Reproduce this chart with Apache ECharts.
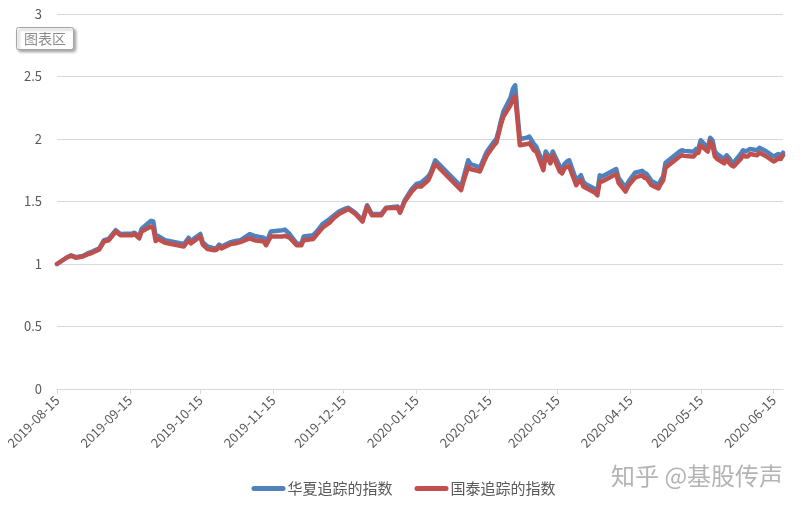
<!DOCTYPE html>
<html>
<head>
<meta charset="utf-8">
<script src="https://cdn.jsdelivr.net/npm/echarts@6/dist/echarts.min.js"></script>
<style>
html,body{margin:0;padding:0;background:#fff;}
#chart{width:807px;height:509px;}
</style>
</head>
<body>
<div id="chart"></div>
<script>
var seriesNames = ['华夏追踪的指数', '国泰追踪的指数'];
var xTickLabels = ['2019-08-15','2019-09-15','2019-10-15','2019-11-15','2019-12-15','2020-01-15','2020-02-15','2020-03-15','2020-04-15','2020-05-15','2020-06-15'];
var xStart = '2019-08-15';
var xEnd = '2020-06-19';

var dates = [
'2019-08-15','2019-08-19','2019-08-21','2019-08-23','2019-08-26','2019-08-28','2019-08-30','2019-09-02','2019-09-04','2019-09-06',
'2019-09-09','2019-09-11','2019-09-16','2019-09-17','2019-09-19','2019-09-20','2019-09-23','2019-09-24','2019-09-25','2019-09-26',
'2019-09-27','2019-09-30','2019-10-08','2019-10-10','2019-10-11','2019-10-15','2019-10-16','2019-10-18','2019-10-21','2019-10-22',
'2019-10-23','2019-10-24','2019-10-28','2019-10-30','2019-11-01','2019-11-05','2019-11-07','2019-11-11','2019-11-12','2019-11-14',
'2019-11-19','2019-11-20','2019-11-22','2019-11-25','2019-11-27','2019-11-28','2019-12-02','2019-12-04','2019-12-06','2019-12-09',
'2019-12-11','2019-12-13','2019-12-16','2019-12-17','2019-12-20','2019-12-23','2019-12-25','2019-12-27','2019-12-31','2020-01-02',
'2020-01-07','2020-01-08','2020-01-10','2020-01-13','2020-01-15','2020-01-17','2020-01-20','2020-01-21','2020-01-23','2020-02-03',
'2020-02-04','2020-02-06','2020-02-07','2020-02-10','2020-02-11','2020-02-13','2020-02-14','2020-02-17','2020-02-18','2020-02-19',
'2020-02-20','2020-02-21','2020-02-24','2020-02-25','2020-02-26','2020-02-27','2020-02-28','2020-03-02','2020-03-03','2020-03-04',
'2020-03-05','2020-03-06','2020-03-09','2020-03-10','2020-03-11','2020-03-12','2020-03-13','2020-03-16','2020-03-17','2020-03-18',
'2020-03-19','2020-03-20','2020-03-23','2020-03-24','2020-03-25','2020-03-26','2020-03-27','2020-03-30','2020-03-31','2020-04-01',
'2020-04-02','2020-04-03','2020-04-07','2020-04-08','2020-04-09','2020-04-10','2020-04-13','2020-04-14','2020-04-15','2020-04-17',
'2020-04-20','2020-04-21','2020-04-22','2020-04-24','2020-04-27','2020-04-28','2020-04-29','2020-04-30','2020-05-06','2020-05-07',
'2020-05-08','2020-05-11','2020-05-12','2020-05-13','2020-05-14','2020-05-15','2020-05-18','2020-05-19','2020-05-20','2020-05-21',
'2020-05-22','2020-05-25','2020-05-26','2020-05-27','2020-05-28','2020-05-29','2020-06-01','2020-06-02','2020-06-03','2020-06-04',
'2020-06-05','2020-06-08','2020-06-09','2020-06-10','2020-06-11','2020-06-12','2020-06-15','2020-06-16','2020-06-17','2020-06-18',
'2020-06-19'
];

var huaxia = [
1.00,1.05,1.07,1.055,1.065,1.085,1.10,1.125,1.19,1.20,
1.27,1.24,1.245,1.25,1.22,1.28,1.33,1.345,1.34,1.22,
1.225,1.19,1.16,1.21,1.185,1.24,1.175,1.14,1.125,1.13,
1.155,1.14,1.175,1.185,1.19,1.24,1.225,1.21,1.17,1.26,
1.27,1.275,1.24,1.165,1.16,1.22,1.23,1.27,1.32,1.36,
1.39,1.42,1.445,1.45,1.41,1.35,1.47,1.40,1.40,1.45,
1.46,1.415,1.51,1.60,1.64,1.65,1.70,1.73,1.83,1.62,
1.69,1.83,1.80,1.78,1.77,1.86,1.90,1.98,2.00,2.07,
2.15,2.22,2.33,2.40,2.43,2.20,2.00,2.01,2.02,1.99,
1.96,1.94,1.80,1.90,1.87,1.84,1.90,1.78,1.76,1.80,
1.82,1.83,1.67,1.69,1.71,1.66,1.64,1.61,1.60,1.58,
1.71,1.70,1.74,1.75,1.76,1.69,1.61,1.65,1.68,1.73,
1.745,1.73,1.72,1.665,1.635,1.67,1.70,1.81,1.90,1.91,
1.905,1.90,1.90,1.92,1.925,1.99,1.93,2.01,1.99,1.90,
1.88,1.84,1.87,1.85,1.82,1.81,1.88,1.91,1.90,1.91,
1.92,1.91,1.93,1.92,1.91,1.90,1.86,1.87,1.88,1.87,
1.89
];

var guotai = [
1.00,1.05,1.066,1.05,1.06,1.077,1.09,1.117,1.18,1.19,
1.26,1.23,1.23,1.24,1.205,1.26,1.29,1.30,1.285,1.184,
1.20,1.17,1.14,1.19,1.165,1.22,1.157,1.12,1.11,1.115,
1.14,1.125,1.16,1.165,1.175,1.205,1.19,1.18,1.15,1.22,
1.22,1.225,1.21,1.15,1.15,1.19,1.20,1.245,1.29,1.33,
1.37,1.40,1.43,1.44,1.40,1.34,1.46,1.39,1.39,1.445,
1.45,1.41,1.50,1.58,1.62,1.62,1.67,1.71,1.80,1.59,
1.66,1.78,1.76,1.745,1.74,1.83,1.87,1.95,1.97,2.045,
2.12,2.18,2.27,2.32,2.34,2.15,1.95,1.96,1.965,1.94,
1.91,1.90,1.75,1.87,1.84,1.805,1.87,1.74,1.725,1.765,
1.78,1.78,1.63,1.66,1.67,1.62,1.61,1.58,1.57,1.55,
1.66,1.66,1.70,1.71,1.72,1.65,1.58,1.62,1.645,1.69,
1.71,1.69,1.685,1.63,1.605,1.64,1.67,1.77,1.86,1.87,
1.865,1.86,1.86,1.885,1.89,1.95,1.90,1.98,1.95,1.86,
1.84,1.805,1.845,1.81,1.79,1.78,1.84,1.87,1.86,1.86,
1.88,1.87,1.89,1.88,1.87,1.86,1.82,1.83,1.845,1.84,
1.87
];

function toTs(s) {
  var p = s.split('-');
  return Date.UTC(+p[0], +p[1] - 1, +p[2]);
}
function pad(n) { return (n < 10 ? '0' : '') + n; }
function fmt(ts) {
  var d = new Date(ts);
  return d.getUTCFullYear() + '-' + pad(d.getUTCMonth() + 1) + '-' + pad(d.getUTCDate());
}

var tickTs = xTickLabels.map(toTs);
var dataHuaxia = dates.map(function (d, i) { return [toTs(d), huaxia[i]]; });
var dataGuotai = dates.map(function (d, i) { return [toTs(d), guotai[i]]; });

var chart = echarts.init(document.getElementById('chart'), null, {renderer: 'canvas'});
var font = '"Noto Sans CJK SC", "Noto Sans", sans-serif';

chart.setOption({
  animation: false,
  backgroundColor: '#ffffff',
  textStyle: { fontFamily: font },
  grid: { left: 57, right: 24, top: 14, bottom: 120, containLabel: false },
  legend: {
    data: seriesNames,
    top: 476,
    left: 'center',
    itemWidth: 34,
    itemHeight: 5,
    itemGap: 22,
    icon: 'path://M2.5,0H31.5A2.5,2.5,0,0,1,31.5,5H2.5A2.5,2.5,0,0,1,2.5,0Z',
    textStyle: { color: '#595959', fontSize: 15, fontFamily: font, padding: [0, 0, 0, -3] }
  },
  xAxis: {
    type: 'value',
    min: toTs(xStart),
    max: toTs(xEnd),
    axisLine: { show: true, lineStyle: { color: '#d9d9d9', width: 1 } },
    axisTick: { show: true, length: 5, lineStyle: { color: '#d9d9d9' }, customValues: tickTs },
    axisLabel: {
      customValues: tickTs,
      rotate: 45,
      margin: 9,
      color: '#595959',
      fontSize: 13,
      fontFamily: font,
      formatter: function (v) { return fmt(v); }
    },
    splitLine: { show: false }
  },
  yAxis: {
    type: 'value',
    min: 0,
    max: 3,
    interval: 0.5,
    axisLine: { show: false },
    axisTick: { show: false },
    axisLabel: { color: '#595959', fontSize: 13, margin: 15, fontFamily: font },
    splitLine: { lineStyle: { color: '#d9d9d9', width: 1 } }
  },
  series: [
    {
      name: seriesNames[0],
      type: 'line',
      data: dataHuaxia,
      symbol: 'none',
      lineStyle: { color: '#4f81bd', width: 4.5, cap: 'round', join: 'round' },
      itemStyle: { color: '#4f81bd' }
    },
    {
      name: seriesNames[1],
      type: 'line',
      data: dataGuotai,
      symbol: 'none',
      lineStyle: { color: '#c0504d', width: 4.5, cap: 'round', join: 'round' },
      itemStyle: { color: '#c0504d' }
    }
  ],
  graphic: [
    {
      type: 'group',
      left: 16,
      top: 27,
      children: [
        {
          type: 'rect',
          shape: { x: 0, y: 0, width: 57, height: 22, r: 2 },
          style: { fill: '#ffffff', stroke: '#a6a6a6', lineWidth: 1, shadowBlur: 3, shadowOffsetX: 2, shadowOffsetY: 2, shadowColor: 'rgba(0,0,0,0.35)' }
        },
        {
          type: 'text',
          x: 28.5,
          y: 11,
          style: { text: '图表区', fill: '#8c8c8c', fontSize: 14, fontFamily: font, align: 'center', verticalAlign: 'middle' }
        }
      ]
    },
    {
      type: 'text',
      left: 611,
      top: 464,
      style: { text: '知乎 @基股传声', fill: '#b4b4b4', fontSize: 24, fontFamily: font }
    }
  ]
});
</script>
</body>
</html>
